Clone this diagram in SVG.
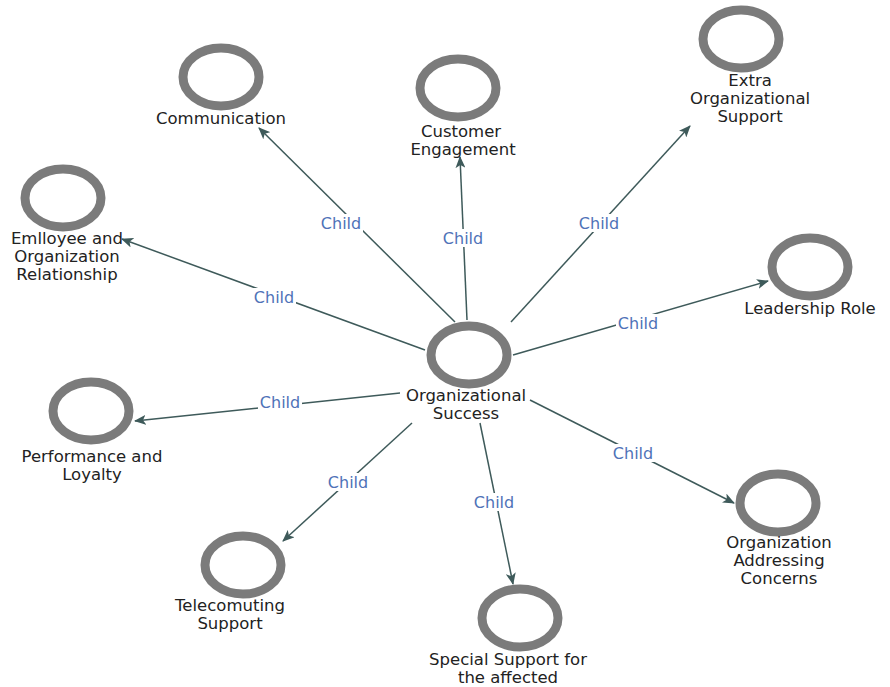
<svg xmlns="http://www.w3.org/2000/svg" width="890" height="687" viewBox="0 0 890 687">
<defs>
<style>
.ring{fill:#fff;stroke:#7b7b7b;stroke-width:9}
.lbl{font-family:"DejaVu Sans",sans-serif;font-size:16.5px;fill:#222;text-anchor:middle}
.edge{stroke:#3e5a5a;stroke-width:1.5;fill:none;marker-end:url(#arr)}
.el{font-family:"DejaVu Sans",sans-serif;font-size:16px;fill:#4f72b8;text-anchor:middle}
.bg{fill:#fff}
</style>
<marker id="arr" viewBox="0 0 12 10" refX="11" refY="5" markerWidth="12" markerHeight="10" markerUnits="userSpaceOnUse" orient="auto">
<path d="M0,0 L12,5 L0,10 L3,5 z" fill="#3e5a5a"/>
</marker>
</defs>
<rect width="890" height="687" fill="#fff"/>
<g id="connectors">
<line class="edge" x1="455" y1="322" x2="259" y2="128"/>
<line class="edge" x1="467" y1="320" x2="460" y2="157"/>
<line class="edge" x1="511" y1="322" x2="690" y2="126"/>
<line class="edge" x1="425" y1="350" x2="122" y2="239"/>
<line class="edge" x1="513" y1="355" x2="768" y2="281"/>
<line class="edge" x1="400" y1="393" x2="135" y2="421"/>
<line class="edge" x1="412" y1="423" x2="283" y2="541"/>
<line class="edge" x1="480" y1="423" x2="513" y2="584"/>
<line class="edge" x1="530" y1="400" x2="734" y2="503"/>
<g id="edge-labels">
<rect class="bg" x="319" y="214" width="44" height="18"/><text class="el" x="341" y="229">Child</text>
<rect class="bg" x="441" y="229" width="44" height="18"/><text class="el" x="463" y="244">Child</text>
<rect class="bg" x="577" y="214" width="44" height="18"/><text class="el" x="599" y="229">Child</text>
<rect class="bg" x="252" y="288" width="44" height="18"/><text class="el" x="274" y="303">Child</text>
<rect class="bg" x="616" y="314" width="44" height="18"/><text class="el" x="638" y="329">Child</text>
<rect class="bg" x="258" y="393" width="44" height="18"/><text class="el" x="280" y="408">Child</text>
<rect class="bg" x="326" y="473" width="44" height="18"/><text class="el" x="348" y="488">Child</text>
<rect class="bg" x="472" y="493" width="44" height="18"/><text class="el" x="494" y="508">Child</text>
<rect class="bg" x="611" y="444" width="44" height="18"/><text class="el" x="633" y="459">Child</text>
</g>
</g>
<g id="n-center"><ellipse class="ring" cx="469" cy="355" rx="38" ry="29"/><text class="lbl" x="466" y="401">Organizational</text><text class="lbl" x="466" y="419">Success</text></g>
<g id="n-communication"><ellipse class="ring" cx="221" cy="77" rx="38" ry="29"/><text class="lbl" x="221" y="124">Communication</text></g>
<g id="n-customer"><ellipse class="ring" cx="458" cy="88" rx="38" ry="29"/><text class="lbl" x="461" y="137">Customer</text><text class="lbl" x="463" y="155">Engagement</text></g>
<g id="n-extra"><ellipse class="ring" cx="741" cy="39" rx="38" ry="29"/><text class="lbl" x="750" y="86">Extra</text><text class="lbl" x="750" y="104">Organizational</text><text class="lbl" x="750" y="122">Support</text></g>
<g id="n-employee"><ellipse class="ring" cx="63" cy="198" rx="38" ry="29"/><text class="lbl" x="67" y="244">Emlloyee and</text><text class="lbl" x="67" y="262">Organization</text><text class="lbl" x="67" y="280">Relationship</text></g>
<g id="n-leadership"><ellipse class="ring" cx="810" cy="267" rx="38" ry="29"/><text class="lbl" x="810" y="314">Leadership Role</text></g>
<g id="n-performance"><ellipse class="ring" cx="91" cy="411" rx="38" ry="29"/><text class="lbl" x="92" y="462">Performance and</text><text class="lbl" x="92" y="480">Loyalty</text></g>
<g id="n-telecomuting"><ellipse class="ring" cx="243" cy="565" rx="38" ry="29"/><text class="lbl" x="230" y="611">Telecomuting</text><text class="lbl" x="230" y="629">Support</text></g>
<g id="n-special"><ellipse class="ring" cx="520" cy="618" rx="38" ry="29"/><text class="lbl" x="508" y="665">Special Support for</text><text class="lbl" x="508" y="683">the affected</text></g>
<g id="n-orgaddr"><ellipse class="ring" cx="778" cy="503" rx="38" ry="29"/><text class="lbl" x="779" y="548">Organization</text><text class="lbl" x="779" y="566">Addressing</text><text class="lbl" x="779" y="584">Concerns</text></g>
</svg>
